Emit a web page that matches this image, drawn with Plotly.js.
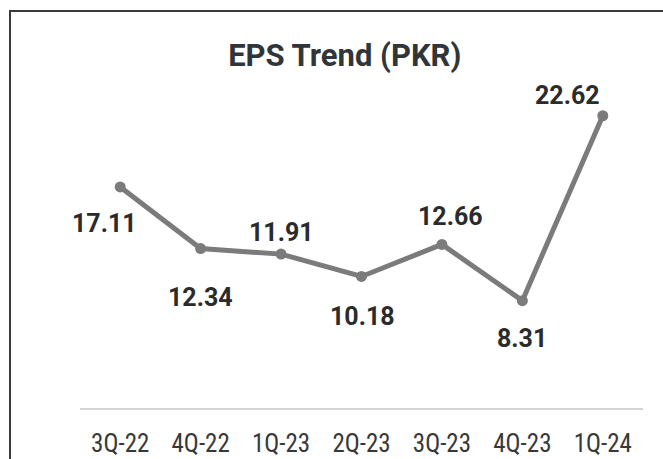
<!DOCTYPE html>
<html>
<head>
<meta charset="utf-8">
<script src="https://cdn.plot.ly/plotly-3.0.1.min.js"></script>
<style>
html,body{margin:0;padding:0;background:#fff;}
#wrap{position:relative;width:663px;height:459px;overflow:hidden;}
#plot{width:663px;height:459px;}
#frame{position:absolute;left:9px;top:10px;width:700px;height:500px;border-top:2px solid #3a3a3a;border-left:2px solid #3a3a3a;pointer-events:none;}
</style>
</head>
<body>
<div id="wrap"><div id="plot"></div><div id="frame"></div></div>
<script>
const quarters = ["3Q-22","4Q-22","1Q-23","2Q-23","3Q-23","4Q-23","1Q-24"];
const eps = [17.11, 12.34, 11.91, 10.18, 12.66, 8.31, 22.62];
const epsLabels = ["17.11","12.34","11.91","10.18","12.66","8.31","22.62"];

// label placement offsets (pixels)
const labelDx = [-16, 0, 0, 1, 9, 0, -35];
const labelDy = [-37, -49, 22, -40, 28, -38, 20];

const trace = {
  x: quarters, y: eps, type: 'scatter', mode: 'lines+markers',
  line: {color: '#7b7b7b', width: 5},
  marker: {color: '#7b7b7b', size: 11},
  hoverinfo: 'skip'
};

const annotations = quarters.map((q, i) => ({
  x: q, y: eps[i], xref: 'x', yref: 'y', text: '<b>' + epsLabels[i] + '</b>',
  showarrow: false, xshift: labelDx[i], yshift: labelDy[i],
  font: {family: 'Roboto, sans-serif', size: 25, color: '#2b2b2b'}
}));

const layout = {
  width: 663, height: 459,
  paper_bgcolor: '#ffffff', plot_bgcolor: '#ffffff',
  margin: {l: 80, r: 20, t: 85, b: 51},
  showlegend: false,
  title: {text: '<b>EPS Trend (PKR)</b>', x: 0.52, xanchor: 'center', y: 0.879, yanchor: 'middle',
          font: {family: 'Roboto, sans-serif', size: 31, color: '#30353a'}},
  xaxis: {type: 'category', range: [-0.5, 6.5], showgrid: false, zeroline: false,
          showline: true, linecolor: '#d4d4d4', linewidth: 1.5, ticks: '',
          ticklabelstandoff: 12,
          tickfont: {family: '"Roboto Condensed", Roboto, sans-serif', size: 25, color: '#383838'}},
  yaxis: {range: [0, 25], visible: false, showgrid: false, zeroline: false},
  annotations: annotations
};

Plotly.newPlot('plot', [trace], layout, {displayModeBar: false, staticPlot: true});
</script>
</body>
</html>
